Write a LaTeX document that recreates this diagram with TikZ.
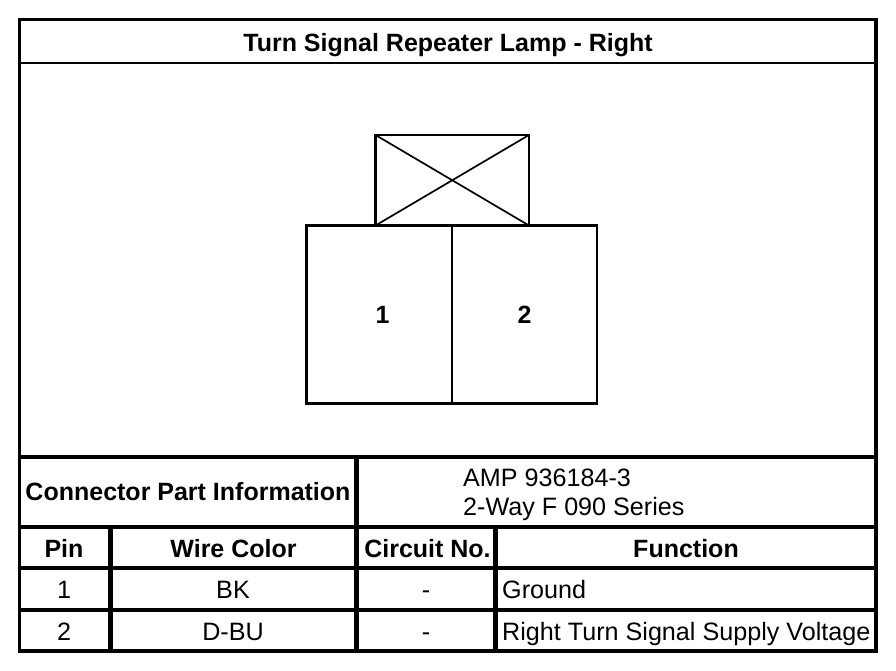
\documentclass[tikz,border=0pt]{standalone}
\usepackage{fontspec}
\setmainfont{Liberation Sans}
\tikzset{
  x=1pt,y=-1pt,
  thick line/.style={line width=4.2pt,line cap=butt},
  frame line/.style={line width=3pt},
  shape line/.style={line width=2.8pt},
  thin part/.style={line width=2pt},
  cross line/.style={line width=1.7pt},
  bold text/.style={inner sep=0pt,anchor=base,font=\fontsize{25pt}{30pt}\selectfont\bfseries},
  reg text/.style={inner sep=0pt,anchor=base,font=\fontsize{25.15pt}{30pt}\selectfont},
  reg left/.style={reg text,anchor=base west},
}
\begin{document}
\begin{tikzpicture}
\useasboundingbox (0,0) rectangle (896,670);
\fill[white] (0,0) rectangle (896,670);
% frame and table rules
\draw[frame line] (18,19.5) -- (877.8,19.5);
\draw[frame line] (19.5,18) -- (19.5,653.2);
\draw[line width=3.6pt] (876,18) -- (876,653.2);
\draw[line width=2.6pt] (19.5,63) -- (876,63);
\draw[thick line] (18,457) -- (877.8,457);
\draw[thick line] (19.5,527) -- (876,527);
\draw[thick line] (19.5,568) -- (876,568);
\draw[thick line] (19.5,610) -- (876,610);
\draw[thick line] (18,651) -- (877.8,651);
\draw[thick line] (356.5,457) -- (356.5,651);
\draw[thick line] (110.5,527) -- (110.5,651);
\draw[thick line] (495.5,527) -- (495.5,651);
% connector
\coordinate (tl) at (375.5,135);
\coordinate (tr) at (529,135);
\coordinate (bl) at (375.5,225.5);
\coordinate (br) at (529,225.5);
\draw[shape line] (bl) -- (tl) -- (tr) -- (br);
\draw[cross line] (tl) -- (br);
\draw[cross line] (tr) -- (bl);
\draw[shape line] (306.5,225.5) rectangle (597,403.5);
\draw[thin part] (452,225.5) -- (452,403.5);
% texts
\node[bold text] (title) at (448,51) {Turn Signal Repeater Lamp - Right};
\node[bold text] (pin1) at (382.5,323.5) {1};
\node[bold text] (pin2) at (524.5,323.5) {2};
\node[bold text] (cpi) at (188,500) {Connector Part Information};
\node[reg left] (amp) at (463,486.7) {AMP 936184-3};
\node[reg left] (way) at (463,515) {2-Way F 090 Series};
\node[bold text] (hpin) at (64,557) {Pin};
\node[bold text] (hwire) at (233.5,557) {Wire Color};
\node[bold text] (hcirc) at (427.5,557) {Circuit No.};
\node[bold text] (hfunc) at (686,557) {Function};
\node[reg text] (r1a) at (64,598) {1};
\node[reg text] (r1b) at (233,598) {BK};
\node[reg text] (r1c) at (426,598) {-};
\node[reg left] (r1d) at (502,598) {Ground};
\node[reg text] (r2a) at (64,640) {2};
\node[reg text] (r2b) at (233,640) {D-BU};
\node[reg text] (r2c) at (426,640) {-};
\node[reg left] (r2d) at (502,640) {Right Turn Signal Supply Voltage};
\end{tikzpicture}
\end{document}
